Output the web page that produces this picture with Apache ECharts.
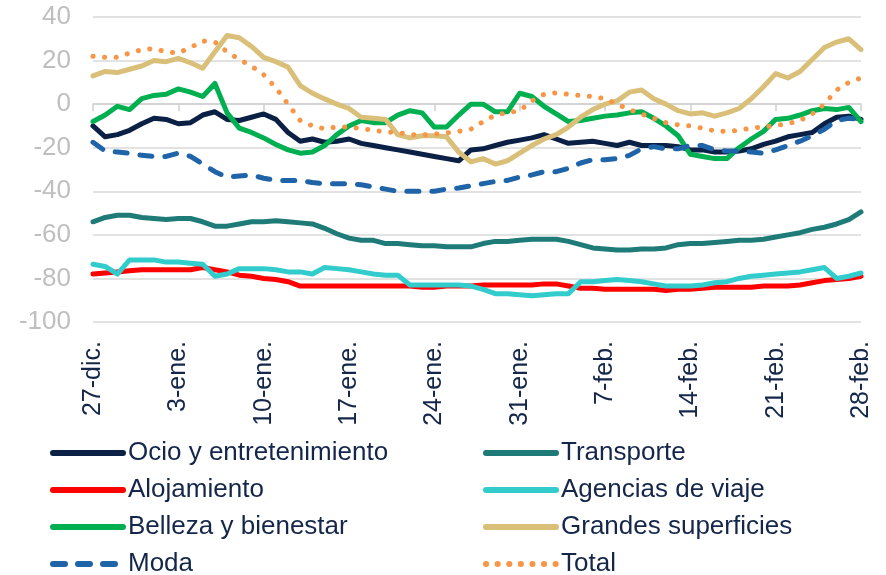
<!DOCTYPE html>
<html>
<head>
<meta charset="utf-8">
<script src="https://cdn.jsdelivr.net/npm/echarts@6/dist/echarts.min.js"></script>
<style>
  html, body { margin: 0; padding: 0; background: #fff; }
  #chart { width: 886px; height: 575px; }
</style>
</head>
<body>
<div id="chart"></div>
<script>
// dias (27-dic. a 28-feb.)
const dias = [
  '27-dic.','28-dic.','29-dic.','30-dic.','31-dic.',
  '1-ene.','2-ene.','3-ene.','4-ene.','5-ene.','6-ene.','7-ene.','8-ene.','9-ene.','10-ene.',
  '11-ene.','12-ene.','13-ene.','14-ene.','15-ene.','16-ene.','17-ene.','18-ene.','19-ene.','20-ene.',
  '21-ene.','22-ene.','23-ene.','24-ene.','25-ene.','26-ene.','27-ene.','28-ene.','29-ene.','30-ene.','31-ene.',
  '1-feb.','2-feb.','3-feb.','4-feb.','5-feb.','6-feb.','7-feb.','8-feb.','9-feb.','10-feb.',
  '11-feb.','12-feb.','13-feb.','14-feb.','15-feb.','16-feb.','17-feb.','18-feb.','19-feb.','20-feb.',
  '21-feb.','22-feb.','23-feb.','24-feb.','25-feb.','26-feb.','27-feb.','28-feb.'
];

// series
const ocio = [-10,-15,-14,-12,-9,-6.5,-7,-9,-8.5,-5,
  -3.5,-7,-7.5,-6,-4.5,-7,-13,-17,-16,-17.5,
  -17,-16,-18,-19,-20,-21,-22,-23,-24,-25,
  -26,-21,-20.5,-19,-17.5,-16.5,-15.5,-14,-16,-18,
  -17.5,-17,-18,-19,-17.5,-19,-19,-19,-19.5,-21,
  -21,-22,-22,-21.5,-20.5,-18.5,-17,-15,-14,-13,
  -9,-6,-5.5,-7];
const transporte = [-54,-52,-51,-51,-52,-52.5,-53,-52.5,-52.5,-54,
  -56,-56,-55,-54,-54,-53.5,-54,-54.5,-55,-57,
  -59.5,-61.5,-62.5,-62.5,-64,-64,-64.5,-65,-65,-65.5,
  -65.5,-65.5,-64,-63,-63,-62.5,-62,-62,-62,-63,
  -64.5,-66,-66.5,-67,-67,-66.5,-66.5,-66,-64.5,-64,
  -64,-63.5,-63,-62.5,-62.5,-62,-61,-60,-59,-57.5,
  -56.5,-55,-53,-49.5];
const alojamiento = [-78,-77.5,-77,-76.5,-76,-76,-76,-76,-76,-75,
  -76,-77,-78.5,-79,-80,-80.5,-81.5,-83.5,-83.5,-83.5,
  -83.5,-83.5,-83.5,-83.5,-83.5,-83.5,-83.5,-84,-84,-83.5,
  -83.5,-83.5,-83,-83,-83,-83,-83,-82.5,-82.5,-83.5,
  -84.5,-84.5,-85,-85,-85,-85,-85,-85.5,-85,-85,
  -84.5,-84,-84,-84,-84,-83.5,-83.5,-83.5,-83,-82,
  -81,-80.5,-80,-79];
const agencias = [-73.5,-74.5,-78,-71.5,-71.5,-71.5,-72.5,-72.5,-73,-73.5,
  -79,-78,-75.5,-75.5,-75.5,-76,-77,-77,-78,-75,
  -75.5,-76,-77,-78,-78.5,-78.5,-83,-83,-83,-83,
  -83,-83.5,-85,-87,-87,-87.5,-88,-87.5,-87,-87,
  -81.5,-81.5,-81,-80.5,-81,-81.5,-82.5,-83.5,-83.5,-83.5,
  -83,-82,-81.5,-80,-79,-78.5,-78,-77.5,-77,-76,
  -75,-80,-79,-77.5];
const belleza = [-8,-5,-1,-2.5,2.5,4,4.5,7,5.5,3.5,
  9.5,-4,-11,-13,-15.5,-18.5,-21,-22.5,-22,-19,
  -14,-10,-7.5,-8.5,-8.5,-5,-3,-4,-10.5,-10.5,
  -5,0,0,-3.5,-3.5,5,3.5,-1,-4.5,-8,
  -7.5,-6.5,-5.5,-5,-4,-3.5,-6.5,-10,-14.5,-23,
  -24,-25,-25,-20,-16,-12.5,-7,-6.5,-5,-3,
  -2,-2.5,-1.5,-8];
const grandes = [13,15,14.5,16,17.5,20,19.5,21,19,16.5,
  24,31.5,30.5,26.5,21.5,19.5,17,8.5,5,2.4,
  0,-2,-6,-6.5,-7,-14,-15.5,-14.5,-14.5,-15,
  -22,-26.5,-25,-27.5,-26,-22.5,-19,-16,-14,-10.5,
  -6,-2.5,0,1.5,5.5,6.5,2.5,0,-3,-4.5,
  -4,-5.5,-4,-2,2.5,8,14,12,15,20.5,
  26,28.5,30,25];
const moda = [-17.5,-21.5,-22,-22.5,-23.5,-24,-24,-22.5,-24,-27.5,
  -31,-33.5,-33,-32.5,-34,-35,-35,-35,-36,-36.5,
  -36.5,-36.5,-37,-38,-39,-40,-40,-40,-40,-39,
  -38.5,-37.5,-36.5,-35.5,-35,-33.5,-32.5,-31,-31,-29.5,
  -27,-25.5,-25.5,-25,-23.5,-20.5,-19.5,-20.5,-20.5,-19,
  -19,-21,-21.5,-21.5,-22,-22.5,-21,-19,-17,-14.5,
  -11.5,-7.5,-6.5,-7];
const total = [22,21.5,21.5,23.5,25,25.5,24,23.5,26,29,
  28.5,24,20.5,17.5,13.5,7.5,0,-7.5,-10,-11.3,
  -10.5,-10.5,-11.2,-12,-12.8,-13,-14,-14.2,-13.8,-13.2,
  -12.5,-11.5,-8,-5,-4,-3,1.5,4.5,5.2,4.5,
  4,3.5,2.5,0,-2.5,-4.5,-6.5,-8.5,-9.5,-10,
  -11,-12.3,-12.5,-12,-11,-10.5,-9.8,-9,-7.5,-4.5,
  0,6.5,10,12];

const navy = '#14264a';
const fuente = '"Liberation Sans", Arial, sans-serif';

function linea(nombre, datos, color, tipo) {
  return {
    name: nombre,
    type: 'line',
    data: datos,
    symbol: 'none',
    smooth: false,
    lineStyle: { color: color, width: 5, type: tipo || 'solid', cap: 'round', join: 'round' },
    itemStyle: { color: color }
  };
}

const chart = echarts.init(document.getElementById('chart'), null, { renderer: 'canvas' });

// leyenda en dos columnas
const leyendaBase = {
  orient: 'vertical',
  top: 440,
  height: 160,
  padding: 0,
  itemWidth: 70,
  itemHeight: 14,
  itemGap: 11,
  selectedMode: false,
  itemStyle: { opacity: 0, borderWidth: 0 },
  lineStyle: { width: 6 },
  textStyle: { fontSize: 26, color: navy, fontFamily: fuente, lineHeight: 26 }
};

chart.setOption({
  animation: false,
  textStyle: { fontFamily: fuente },
  grid: { left: 93, right: 25, top: 17, bottom: 253, containLabel: false },
  legend: [
    Object.assign({}, leyendaBase, {
      left: 50,
      data: ['Ocio y entretenimiento', 'Alojamiento', 'Belleza y bienestar', 'Moda']
    }),
    Object.assign({}, leyendaBase, {
      left: 483,
      data: ['Transporte', 'Agencias de viaje', 'Grandes superficies', 'Total']
    })
  ],
  xAxis: [
    {
      // etiquetas abajo
      type: 'category',
      data: dias,
      boundaryGap: false,
      position: 'bottom',
      axisLine: { show: false, onZero: false },
      axisTick: { show: false },
      splitLine: { show: false },
      axisLabel: {
        rotate: 90,
        interval: 6,
        margin: 19,
        fontSize: 25,
        color: navy,
        fontFamily: fuente
      }
    },
    {
      // eje en el cero con marcas
      type: 'category',
      data: dias,
      boundaryGap: false,
      position: 'bottom',
      axisLine: { show: true, onZero: true, lineStyle: { color: '#d0d0d0', width: 1.5 } },
      axisTick: { show: true, interval: 6, length: 7, lineStyle: { color: '#d0d0d0', width: 1.5 } },
      axisLabel: { show: false },
      splitLine: { show: false }
    }
  ],
  yAxis: {
    type: 'value',
    min: -100,
    max: 40,
    interval: 20,
    axisLine: { show: false },
    axisTick: { show: false },
    axisLabel: { fontSize: 26, color: '#bfbfbf', margin: 22, fontFamily: fuente },
    splitLine: { lineStyle: { color: '#d9d9d9', width: 1.5 } }
  },
  series: [
    linea('Ocio y entretenimiento', ocio, '#0b2045'),
    linea('Transporte', transporte, '#1e7b78'),
    linea('Alojamiento', alojamiento, '#ff0000'),
    linea('Agencias de viaje', agencias, '#33cccc'),
    linea('Belleza y bienestar', belleza, '#00b050'),
    linea('Grandes superficies', grandes, '#d9bf78'),
    linea('Moda', moda, '#1f63a8', [12, 13]),
    linea('Total', total, '#f79646', [0.1, 11.5])
  ]
});
</script>
</body>
</html>
